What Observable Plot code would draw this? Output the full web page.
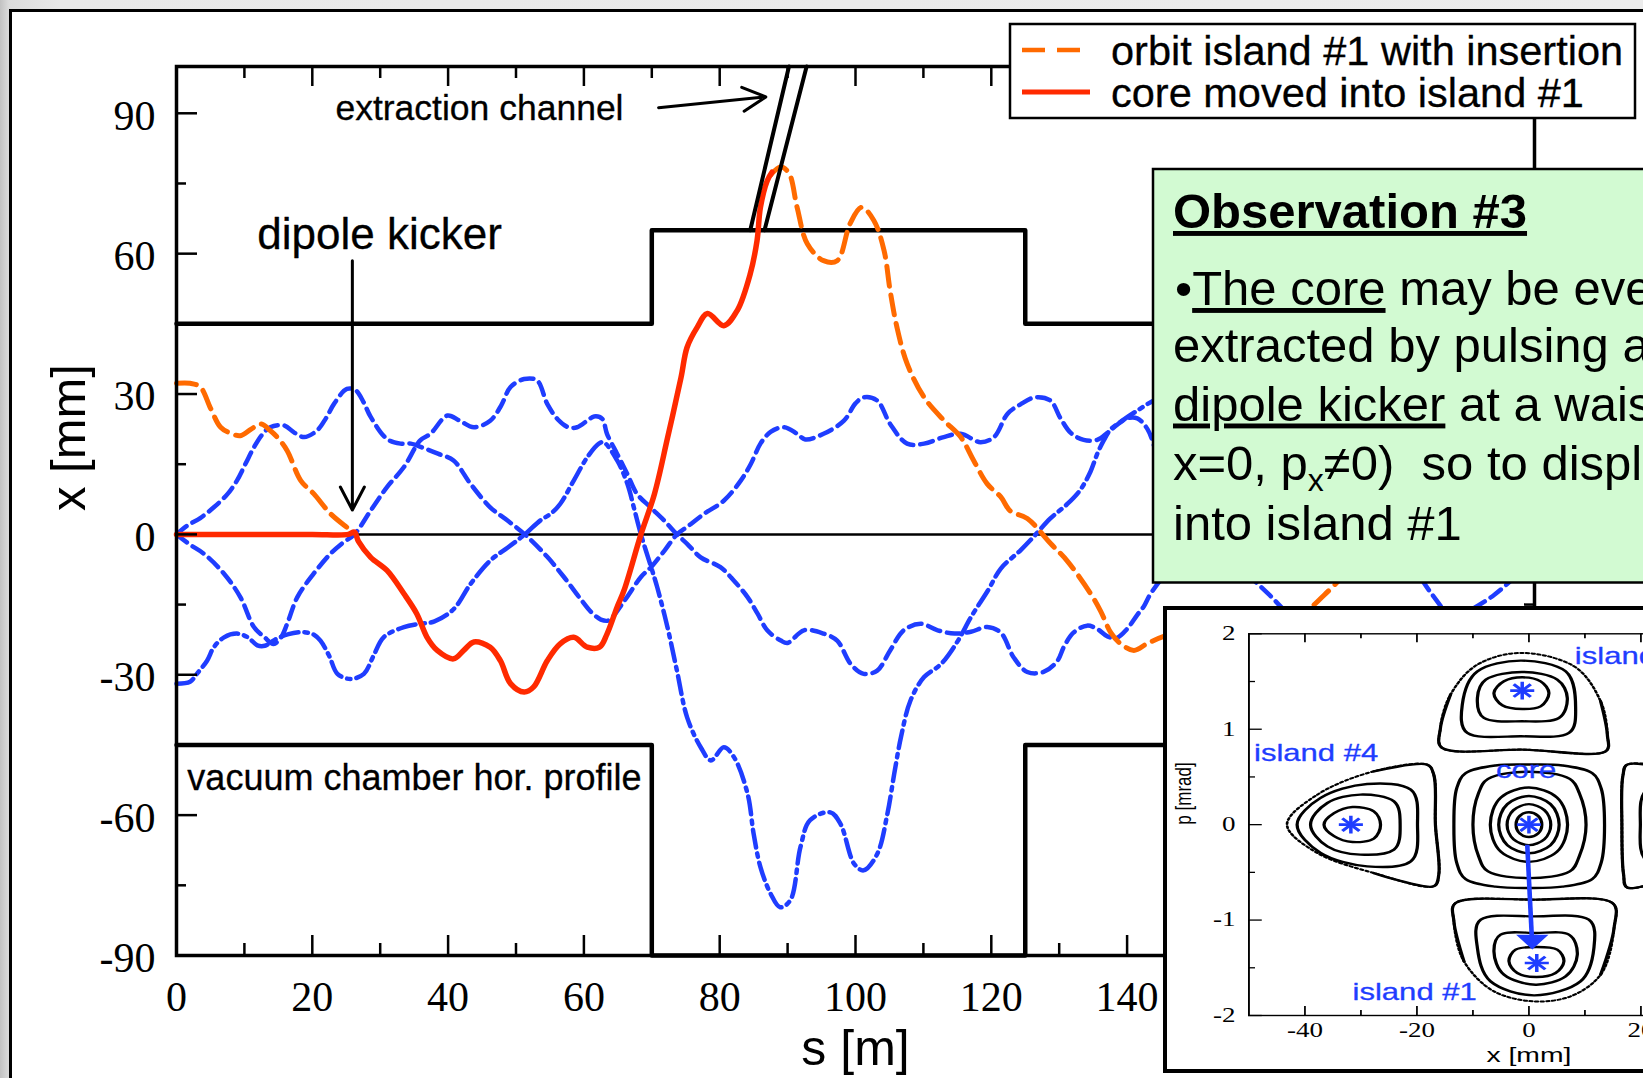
<!DOCTYPE html>
<html><head><meta charset="utf-8">
<script src="https://cdn.jsdelivr.net/npm/d3@7"></script>
<script src="https://cdn.jsdelivr.net/npm/@observablehq/plot@0.6"></script>
<style>
html,body{margin:0;padding:0;width:1643px;height:1078px;overflow:hidden;}
body{position:relative;background:linear-gradient(to right,#c2c2c2 0px,#dcdcdc 9px,#e8e8e8 60px,#ececec 100%);font-family:"Liberation Sans",Arial,sans-serif;}
#frame{position:absolute;left:9px;top:9px;width:1700px;height:1100px;border:3px solid #000;background:#fff;}
#main{position:absolute;left:0;top:0;width:1643px;height:1078px;}
#overlay{position:absolute;left:0;top:0;}
#inset{position:absolute;left:1163px;top:606px;width:700px;height:459px;border:4px solid #000;background:#fff;overflow:hidden;}
#insetPlot{position:absolute;left:0;top:0;width:505px;transform:scaleX(1.35);transform-origin:0 0;}
</style></head>
<body>
<div id="frame"></div>
<div id="main"></div>
<svg id="overlay" width="1643" height="1078" xmlns="http://www.w3.org/2000/svg" font-family="'Liberation Sans', Arial, sans-serif">
  <rect x="1010" y="24" width="625" height="94" fill="#fff" stroke="#000" stroke-width="2.5"/>
  <line x1="1022" y1="50" x2="1092" y2="50" stroke="#ff6a00" stroke-width="4.5" stroke-dasharray="23,12"/>
  <line x1="1022" y1="92" x2="1090" y2="92" stroke="#ff2a00" stroke-width="5"/>
  <text x="1111" y="65" font-size="41.5" stroke="#000" stroke-width="0.3">orbit island #1 with insertion</text>
  <text x="1111" y="107" font-size="41.5" stroke="#000" stroke-width="0.3">core moved into island #1</text>
  <rect x="1153" y="169" width="600" height="413.5" fill="#d2fad2" stroke="#000" stroke-width="2.5"/>
  <text x="1173" y="228" font-size="49" font-weight="bold" style="text-decoration:underline">Observation #3</text>
  <text x="1175" y="305" font-size="49">•<tspan style="text-decoration:underline">The core</tspan> may be even</text>
  <text x="1173" y="362" font-size="49">extracted by pulsing a</text>
  <text x="1173" y="420.5" font-size="49"><tspan style="text-decoration:underline">dipole kicker</tspan> at a waist (i.e.</text>
  <text x="1173" y="480" font-size="49" style="white-space:pre">x=0, p<tspan font-size="32" dy="11">x</tspan><tspan dy="-11">≠0)  so to displace it</tspan></text>
  <text x="1173" y="540" font-size="49">into island #1</text>
</svg>
<div id="inset"><div id="insetPlot"></div></div>
<script>
const blue = "#1f3dff", orange = "#ff6a00", red = "#ff2a00";

// ---------- main chart data: s [m], x [mm] ----------
const chamberTop = [[0,45],[70,45],[70,65],[125,65],[125,45],[200,45]];
const chamberBottom = [[0,-45],[70,-45],[70,-90],[125,-90],[125,-45],[200,-45]];
const channelLeft = [[84.5,65],[90.2,100]];
const channelRight = [[86.6,65],[92.8,100]];

const curveR = [[0,0],[1.5,1.8],[3.5,3.5],[5.5,5.8],[7.5,8.6],[8.9,11.5],[10.2,15.2],[11.4,18.6],[12.6,21.3],[13.8,22.9],[15.8,23.3],[17.4,21.7],[18.8,20.8],[20.7,22.2],[22,24.8],[23.2,27.9],[25.1,31.1],[26.4,30.8],[27.5,28.4],[28.6,25.1],[31,20.4],[33,19.4],[34.5,19.4],[36.5,18.4],[38.6,17.2],[40.8,15.8],[43.3,10.8],[46.2,5.8],[48.8,2.9],[51.3,0],[54.6,-4.8],[57,-9],[59.5,-13.8],[61,-16.5],[62.5,-18.2],[63.6,-18.4],[66,-14.1],[68.4,-9.1],[69.9,-7],[71.9,-3.4],[73.7,0],[75.2,1.6],[77.7,4.4],[80.6,7.2],[83.1,11.5],[84.6,15.1],[86,19.4],[87.5,21.9],[89.5,22.9],[91.4,21.5],[92.6,20.3],[95.3,21.5],[98.3,24.3],[100,28],[101.2,29.3],[103.2,28.6],[105.1,23.6],[107.6,19.4],[110.1,19.4],[113,20.8],[115.5,21.5],[118.4,19.7],[120.4,20.8],[122.4,25.8],[124.3,27.8],[126.5,29.3],[128.7,28.6],[130.2,24.8],[131.7,21.7],[133.6,20.2],[135.6,20.2],[137.1,21.7],[138.6,23.5],[140,24.8],[141.5,24.8],[143,22.5],[144.5,17],[148,8],[152,0],[156,-6],[161,-13],[166,-20],[172,-24],[180,-22],[188,-18],[194,-13],[200,-5]];

const curveP = [[0,0],[2,-2.2],[4,-4.1],[7,-8.4],[9.4,-13.4],[11.4,-19.8],[12.9,-21.9],[14.3,-23.4],[15.4,-22],[16.3,-19.1],[17.8,-13.4],[20.2,-8.4],[22.7,-4.1],[24.5,-1.8],[26.2,0],[28.6,5.1],[31,10.1],[33.5,14.4],[35.9,20.1],[37.4,21.5],[39.9,25.4],[41.7,24.3],[43.8,22.9],[46.2,24.3],[47.8,27.5],[49.2,31.5],[51.2,33.2],[53.1,32.9],[54.6,27.9],[56.2,24.5],[57.7,22.9],[59,22.9],[60.5,24.3],[61.5,25.2],[62.7,24.7],[63.4,21.5],[64.9,17.2],[66.4,12.9],[67.8,8.7],[69.8,5.8],[71.8,3],[73.7,0],[75.2,-2],[77.2,-4.9],[80.1,-7],[82.1,-9.9],[84.1,-13.4],[85.6,-17],[87,-20.5],[89,-22.7],[90,-23.2],[92.4,-20.5],[95.3,-21.2],[97.3,-22.7],[99.3,-27.7],[101.2,-29.8],[103.2,-29.1],[105.1,-24.8],[107.1,-20.5],[109.6,-19.1],[112.1,-20.5],[114.6,-21.2],[117,-20.8],[119.4,-19.8],[121.4,-21],[123.3,-26.3],[125.3,-29.4],[127.7,-29.4],[129.7,-27.1],[130.7,-24],[132.1,-21],[134.1,-19.5],[135.6,-20.2],[137.1,-21.8],[138.5,-22.1],[140,-20.2],[141.5,-17.2],[142.5,-15.3],[143.5,-12.6],[147,-6],[152,2],[160,10],[170,12],[178,2],[185,-13],[192,-25],[200,-30]];

const curveQ = [[0,-31.9],[2,-31.5],[3,-29.8],[4.5,-27],[5.5,-24.1],[7,-22],[8.9,-21.2],[10.5,-22],[11.9,-23.7],[13,-23.8],[14.5,-22.5],[16.5,-21.3],[18.8,-20.9],[20.3,-21.5],[21.2,-22.7],[22.5,-26],[23.7,-29.8],[25.6,-30.9],[27.6,-29.8],[29,-26],[30.5,-22],[33.5,-19.8],[35.9,-19.1],[38,-18.6],[40.8,-16],[43.3,-10.6],[46.2,-5.6],[48.8,-2.8],[51.3,0],[53.6,3],[55.1,4.4],[56.5,6.5],[58.5,11.5],[60.5,16.5],[62.2,19.4],[62.9,19.7],[64.9,15.8],[66.4,10.8],[67.4,5.5],[68.4,0],[69.9,-7],[70.8,-11.3],[72.3,-19.8],[73.7,-29.1],[75.2,-39.1],[77.2,-45.5],[78.7,-48.3],[80.6,-45.5],[82.1,-47.6],[84.1,-55.4],[85,-64],[86,-71.1],[87.5,-76.8],[88.9,-79.7],[90.4,-78.2],[91.9,-66.8],[93.3,-61.1],[96.3,-59.4],[97.8,-61.9],[99.8,-70.4],[101.2,-71.8],[103.2,-68.3],[104.7,-59.7],[105.7,-51.2],[106.7,-43.3],[108.1,-35.5],[110.1,-30.5],[112.6,-27.7],[115.1,-22.7],[117,-17.7],[119.5,-12],[121.4,-7.3],[124.3,-3.4],[126.3,-0.4],[128.7,3.4],[131.2,6.5],[133.1,9.5],[134.6,13.4],[135.6,17.2],[136.6,20.2],[137.6,22.5],[139,24],[141,26],[146,30],[155,32],[165,30],[175,25],[185,20],[200,22]];

const islandOrbitA = [[0,32.3],[2,32.3],[3.5,31.5],[5,27],[6.5,22.9],[8,21.6],[9.4,21.1],[11,22.5],[12.4,23.6],[13.8,22.2],[15,20.5],[16.3,17.9],[18.3,11.5],[20.2,8.7],[22.7,4.4],[25.1,1.5],[26,0.5]];
const islandOrbitB = [[87.5,76.8],[89,78.5],[90.2,77.2],[91.4,69.9],[92.9,62.1],[95.3,58.5],[97.3,58.5],[99.2,66.4],[100.9,69.9],[102.7,67.1],[104.2,60.7],[105.1,52.1],[106.1,44.3],[107.6,36.5],[110.1,29.3],[113,24.4],[115.5,20.8],[117.4,15.8],[119.4,10.8],[121.4,8],[122.8,5],[125.3,3.4],[128.7,-1.9],[131.2,-5.7],[134.6,-12.6],[136.1,-16.4],[137.6,-21],[139,-23.3],[141,-24.8],[143,-23.3],[145.4,-21.8],[150,-20],[155,-19],[160,-21],[165,-18],[169,-13],[175,-4],[180,4],[190,15],[200,25]];

const coreMoved = [[0,0],[10,0],[20,0],[25.3,0],[26.2,0.5],[26.8,-1.5],[28.6,-4.9],[31,-7.7],[33.5,-12.7],[35.4,-17],[36.9,-22],[38.4,-24.8],[40.8,-26.6],[42.3,-24.8],[43.8,-23],[46.2,-24.1],[47.7,-27],[49.2,-31.9],[51.2,-33.7],[52.6,-32.6],[54.6,-27],[56.5,-23.4],[58.5,-22],[60.5,-24.1],[62.3,-24.1],[63.4,-21.3],[64.9,-15.5],[65.9,-12],[68.4,0],[70.4,8.7],[72.3,20.5],[74.3,33.5],[75.2,40],[76.7,44.3],[78.2,47.2],[80.6,44.6],[82.6,47.9],[84.5,55.7],[85.5,62.8],[86,69.9],[87,75.6],[87.7,77.4]];

const annotationArrows = [{s1:25.9,x1:58.5,s2:25.9,x2:5.2},{s1:71,x1:91.2,s2:86.8,x2:93.5}];
const annExtraction = [{label:"extraction channel", s:23.4, x:88.5}];
const annKicker = [{label:"dipole kicker", s:11.9, x:61.1}];
const annChamber = [{label:"vacuum chamber hor. profile", s:1.6, x:-54.7}];

const xTickLabels = [0,20,40,60,80,100,120,140,160,180,200];
const xMinorTicks = [10,30,50,70,90,110,130,150,170,190];
const yTickLabels = [-90,-60,-30,0,30,60,90];
const yMinorTicks = [-75,-45,-15,15,45,75];

// ---------- inset data: x [mm], p [mrad] ----------
const coreOrbits = [
  [[2.3,0],[1.63,0.092],[0,0.13],[-1.63,0.092],[-2.3,0],[-1.63,-0.092],[0,-0.13],[1.63,-0.092]],
  [[3.9,0],[2.76,0.152],[0,0.215],[-2.76,0.152],[-3.9,0],[-2.76,-0.152],[0,-0.215],[2.76,-0.152]],
  [[5.4,0],[3.85,0.215],[0,0.3],[-3.85,0.215],[-5.4,0],[-3.85,-0.215],[0,-0.3],[3.85,-0.215]],
  [[6.9,0],[5.0,0.285],[0,0.39],[-5.0,0.285],[-6.9,0],[-5.0,-0.285],[0,-0.39],[5.0,-0.285]],
  [[10.2,0],[9.0,0.33],[7.3,0.48],[0,0.555],[-7.3,0.48],[-9.0,0.33],[-10,0],[-9.0,-0.33],[-7.3,-0.49],[0,-0.56],[7.3,-0.49],[9.0,-0.33]],
  [[13.5,0],[12.9,0.38],[11.3,0.54],[6,0.62],[0,0.63],[-6,0.62],[-11.3,0.54],[-12.9,0.38],[-13.4,0],[-12.9,-0.4],[-11.3,-0.57],[-6,-0.65],[0,-0.664],[6,-0.65],[11.3,-0.57],[12.9,-0.4]]
];
const island4Orbits = [
  [[-36.6,0],[-34.8,0.12],[-31.5,0.185],[-27.7,0.14],[-26.5,0],[-27.7,-0.146],[-31.5,-0.182],[-34.8,-0.12]],
  [[-39,0],[-36,0.227],[-30.1,0.315],[-24.1,0.244],[-23.0,0],[-24.1,-0.262],[-30.1,-0.314],[-36,-0.227]],
  [[-41.4,0],[-37.2,0.28],[-28.9,0.426],[-21.1,0.367],[-19.9,0],[-21.1,-0.384],[-28.9,-0.437],[-37.2,-0.297]]
];
const island3Orbits = [
  [[-1.19,1.544],[2.09,1.502],[3.57,1.38],[2.09,1.24],[-1.19,1.212],[-4.76,1.251],[-6.25,1.38],[-4.46,1.502]],
  [[-1.19,1.6],[5.06,1.52],[6.85,1.328],[5.36,1.118],[-1.19,1.083],[-8.04,1.118],[-9.2,1.328],[-7.7,1.52]],
  [[-1.49,1.719],[6.55,1.607],[8.34,1.223],[7.15,0.961],[-1.49,0.926],[-11.0,0.961],[-11.9,1.258],[-9.2,1.607]]
];
const island1Orbits = [
  [[1.37,-1.282],[5.06,-1.31],[6.25,-1.432],[4.76,-1.555],[1.37,-1.597],[-2.08,-1.555],[-3.57,-1.432],[-2.38,-1.31]],
  [[1.19,-1.135],[7.15,-1.153],[8.64,-1.363],[6.55,-1.59],[1.19,-1.677],[-4.46,-1.572],[-6.25,-1.328],[-5.06,-1.153]],
  [[0.9,-0.961],[10.7,-0.996],[11.6,-1.293],[9.2,-1.642],[0.9,-1.789],[-6.85,-1.642],[-9.2,-1.293],[-8.6,-0.996]]
];
const island2Orbits = [
  [[19.9,0],[21.1,0.367],[28.9,0.426],[37.2,0.28],[41.4,0],[37.2,-0.297],[28.9,-0.437],[21.1,-0.384]]
];
const separatrices = [
  [[-43.2,0],[-37.8,0.314],[-27.7,0.559],[-18.2,0.629],[-17,0.524],[-16.7,0],[-16.1,-0.524],[-17,-0.646],[-27.7,-0.507],[-37.8,-0.297]],
  [[-1.49,1.8],[8.04,1.66],[12.8,1.293],[14.0,0.943],[13.7,0.769],[-0.89,0.786],[-15.5,0.804],[-15.8,1.013],[-14.0,1.363],[-9.2,1.677]],
  [[0.9,-0.786],[14.9,-0.821],[15.2,-1.083],[12.8,-1.572],[7.44,-1.799],[0.9,-1.852],[-6.25,-1.747],[-11.6,-1.432],[-13.4,-1.013],[-13.1,-0.821]],
  [[43.2,0],[37.8,0.31],[27.7,0.56],[17.6,0.63],[16.8,0.52],[16.6,0],[16.9,-0.52],[17.6,-0.66],[27.7,-0.51],[37.8,-0.3]]
];
const separatrixSolid = [
  [[-27.7,0.559],[-18.2,0.629],[-17,0.524],[-16.7,0],[-16.1,-0.524],[-17,-0.646],[-27.7,-0.507]],
  [[12.8,1.293],[14.0,0.943],[13.7,0.769],[-0.89,0.786],[-15.5,0.804],[-15.8,1.013],[-14.0,1.363]],
  [[-11.6,-1.432],[-13.4,-1.013],[-13.1,-0.821],[0.9,-0.786],[14.9,-0.821],[15.2,-1.083],[12.8,-1.572]],
  [[27.7,0.56],[17.6,0.63],[16.8,0.52],[16.6,0],[16.9,-0.52],[17.6,-0.66],[27.7,-0.51]]
];
const fixedPoints = [{x:0,p:0},{x:-31.8,p:0},{x:-1.2,p:1.405},{x:1.4,p:-1.45},{x:31.8,p:0}];
const kickArrow = [{x1:-0.3,p1:-0.21,x2:0.5,p2:-1.16}];
const kickTip = [{x:0.6,p:-1.205}];
const islandLabels = [{label:"island #4",x:-49.1,p:0.671},{label:"core",x:-5.9,p:0.488},{label:"island #1",x:-31.5,p:-1.834},{label:"island #3",x:8.2,p:1.688}];
const insetXTicks = [-40,-20,0,20,40];
const insetXMinor = [-30,-10,10,30];
const insetYTicks = [-2,-1,0,1,2];
const insetYMinor = [-1.5,-0.5,0.5,1.5];

// ---------- main plot ----------
const PW = 1358, PH = 889;
const fx = d => d[0], fy = d => d[1];
const fmt = d => `${d}`;
const main = Plot.plot({
  width: 1643, height: 1078,
  marginLeft: 176, marginRight: 109, marginTop: 66, marginBottom: 123,
  x: {domain: [0, 200]},
  y: {domain: [-90, 100]},
  style: {background: "transparent", color: "#000", overflow: "visible"},
  marks: [
    Plot.ruleY([0], {stroke: "#000", strokeWidth: 2.5}),
    Plot.line(chamberTop, {x: fx, y: fy, stroke: "#000", strokeWidth: 4.5}),
    Plot.line(chamberBottom, {x: fx, y: fy, stroke: "#000", strokeWidth: 4.5}),
    Plot.line(curveQ, {x: fx, y: fy, stroke: blue, strokeWidth: 4.5, strokeDasharray: "18,6,3.5,6", curve: "catmull-rom"}),
    Plot.line(curveP, {x: fx, y: fy, stroke: blue, strokeWidth: 4.5, strokeDasharray: "13,7", curve: "catmull-rom"}),
    Plot.line(curveR, {x: fx, y: fy, stroke: blue, strokeWidth: 4.5, strokeDasharray: "13,7", curve: "catmull-rom"}),
    Plot.line(islandOrbitA, {x: fx, y: fy, stroke: orange, strokeWidth: 5, strokeDasharray: "20,9", curve: "catmull-rom"}),
    Plot.line(islandOrbitB, {x: fx, y: fy, stroke: orange, strokeWidth: 5, strokeDasharray: "20,9", curve: "catmull-rom"}),
    Plot.line(coreMoved, {x: fx, y: fy, stroke: red, strokeWidth: 5.5, curve: "catmull-rom"}),
    Plot.line(channelLeft, {x: fx, y: fy, stroke: "#000", strokeWidth: 4}),
    Plot.line(channelRight, {x: fx, y: fy, stroke: "#000", strokeWidth: 4}),
    Plot.arrow(annotationArrows, {x1: "s1", y1: "x1", x2: "s2", y2: "x2", stroke: "#000", strokeWidth: 3, headLength: 13, headAngle: 55}),
    Plot.text(annExtraction, {x: "s", y: "x", text: "label", textAnchor: "start", lineAnchor: "bottom", fontSize: 35.5, fontFamily: "Liberation Sans", fill: "#000", stroke: "#000", strokeWidth: 0.3}),
    Plot.text(annKicker, {x: "s", y: "x", text: "label", textAnchor: "start", lineAnchor: "bottom", fontSize: 44, fontFamily: "Liberation Sans", fill: "#000", stroke: "#000", strokeWidth: 0.3}),
    Plot.text(annChamber, {x: "s", y: "x", text: "label", textAnchor: "start", lineAnchor: "bottom", fontSize: 36, fontFamily: "Liberation Sans", fill: "#000", stroke: "#000", strokeWidth: 0.3}),
    Plot.text(["x [mm]"], {text: d => d, frameAnchor: "left", dx: -107, rotate: -90, fontSize: 49, fontFamily: "Liberation Sans", fill: "#000"}),
    Plot.text(["s [m]"], {text: d => d, frameAnchor: "bottom", dy: 109, lineAnchor: "bottom", fontSize: 50, fontFamily: "Liberation Sans", fill: "#000"}),
    Plot.tickX(xTickLabels, {x: d => d, insetTop: PH - 20, stroke: "#000", strokeWidth: 2.5}),
    Plot.tickX(xTickLabels, {x: d => d, insetBottom: PH - 20, stroke: "#000", strokeWidth: 2.5}),
    Plot.tickX(xMinorTicks, {x: d => d, insetTop: PH - 12, stroke: "#000", strokeWidth: 2.5}),
    Plot.tickX(xMinorTicks, {x: d => d, insetBottom: PH - 12, stroke: "#000", strokeWidth: 2.5}),
    Plot.tickY(yTickLabels, {y: d => d, insetRight: PW - 21, stroke: "#000", strokeWidth: 2.5}),
    Plot.tickY(yTickLabels, {y: d => d, insetLeft: PW - 21, stroke: "#000", strokeWidth: 2.5}),
    Plot.tickY(yMinorTicks, {y: d => d, insetRight: PW - 10, stroke: "#000", strokeWidth: 2.5}),
    Plot.tickY(yMinorTicks, {y: d => d, insetLeft: PW - 10, stroke: "#000", strokeWidth: 2.5}),
    Plot.frame({stroke: "#000", strokeWidth: 3.5}),
    Plot.axisX({ticks: xTickLabels, tickSize: 0, tickPadding: 26, fontSize: 42, fontFamily: "Liberation Serif", tickFormat: fmt, label: null}),
    Plot.axisY({ticks: yTickLabels, tickSize: 0, tickPadding: 21, fontSize: 42, fontFamily: "Liberation Serif", tickFormat: fmt, label: null, dy: 3})
  ]
});
document.getElementById("main").appendChild(main);

// ---------- inset plot ----------
const rows = (rings, tag) => rings.flatMap((ring, i) => ring.map(([x, p]) => ({x, p, id: tag + i})));
const solidRows = [
  ...rows(coreOrbits, "c"), ...rows(island4Orbits, "i4"), ...rows(island3Orbits, "i3"),
  ...rows(island1Orbits, "i1"), ...rows(island2Orbits, "i2")
];
const sepRows = rows(separatrices, "s");
const sepSolidRows = rows(separatrixSolid, "ss");
const IPW = 414.8, IPH = 381.7;
const downTriangle = {draw(ctx, size) {
  const s = Math.sqrt(size), w = 0.845 * s;
  ctx.moveTo(-w, -0.35 * s); ctx.lineTo(w, -0.35 * s); ctx.lineTo(0, 0.7 * s); ctx.closePath();
}};
const inset = Plot.plot({
  width: 505, height: 459,
  marginLeft: 60.2, marginRight: 30, marginTop: 23.3, marginBottom: 54,
  x: {domain: [-50, 50]},
  y: {domain: [-2, 2]},
  style: {background: "transparent", color: "#000", overflow: "visible"},
  marks: [
    Plot.line(solidRows, {x: "x", y: "p", z: "id", curve: "catmull-rom-closed", stroke: "#000", strokeWidth: 2.4}),
    Plot.line(sepRows, {x: "x", y: "p", z: "id", curve: "catmull-rom-closed", stroke: "#000", strokeWidth: 2, strokeDasharray: "2,2.2"}),
    Plot.line(sepSolidRows, {x: "x", y: "p", z: "id", curve: "catmull-rom", stroke: "#000", strokeWidth: 2.4}),
    Plot.link(kickArrow, {x1: "x1", y1: "p1", x2: "x2", y2: "p2", stroke: blue, strokeWidth: 3.4}),
    Plot.dot(kickTip, {x: "x", y: "p", symbol: downTriangle, r: 8, fill: blue, stroke: "none"}),
    Plot.dot(fixedPoints, {x: "x", y: "p", symbol: "plus", r: 5.8, stroke: blue, strokeWidth: 2.6}),
    Plot.dot(fixedPoints, {x: "x", y: "p", symbol: "times", r: 5.8, stroke: blue, strokeWidth: 2.6}),
    Plot.text(islandLabels, {x: "x", y: "p", text: "label", textAnchor: "start", lineAnchor: "bottom", fill: blue, fontSize: 23, fontFamily: "Liberation Sans", stroke: blue, strokeWidth: 0.3}),
    Plot.tickX(insetXTicks, {x: d => d, insetTop: IPH - 9, stroke: "#000", strokeWidth: 1.3}),
    Plot.tickX(insetXTicks, {x: d => d, insetBottom: IPH - 9, stroke: "#000", strokeWidth: 1.3}),
    Plot.tickX(insetXMinor, {x: d => d, insetTop: IPH - 5, stroke: "#000", strokeWidth: 1.3}),
    Plot.tickX(insetXMinor, {x: d => d, insetBottom: IPH - 5, stroke: "#000", strokeWidth: 1.3}),
    Plot.tickY(insetYTicks, {y: d => d, insetRight: IPW - 10, stroke: "#000", strokeWidth: 1.3}),
    Plot.tickY(insetYMinor, {y: d => d, insetRight: IPW - 5, stroke: "#000", strokeWidth: 1.3}),
    Plot.frame({stroke: "#000", strokeWidth: 1.4}),
    Plot.axisX({ticks: insetXTicks, tickSize: 0, tickPadding: 7.5, fontSize: 20, fontFamily: "Liberation Serif", tickFormat: fmt, label: null}),
    Plot.axisY({ticks: insetYTicks, tickSize: 0, tickPadding: 10, fontSize: 20, fontFamily: "Liberation Serif", tickFormat: fmt, label: null}),
    Plot.text(["x [mm]"], {text: d => d, frameAnchor: "bottom", dy: 46.7, lineAnchor: "bottom", fontSize: 21, fontFamily: "Liberation Sans", fill: "#000"}),
    Plot.text(["p [mrad]"], {text: d => d, frameAnchor: "left", dx: -48.4, rotate: -90, fontSize: 17, fontFamily: "Liberation Sans", fill: "#000"})
  ]
});
document.getElementById("insetPlot").appendChild(inset);
</script>
</body></html>
